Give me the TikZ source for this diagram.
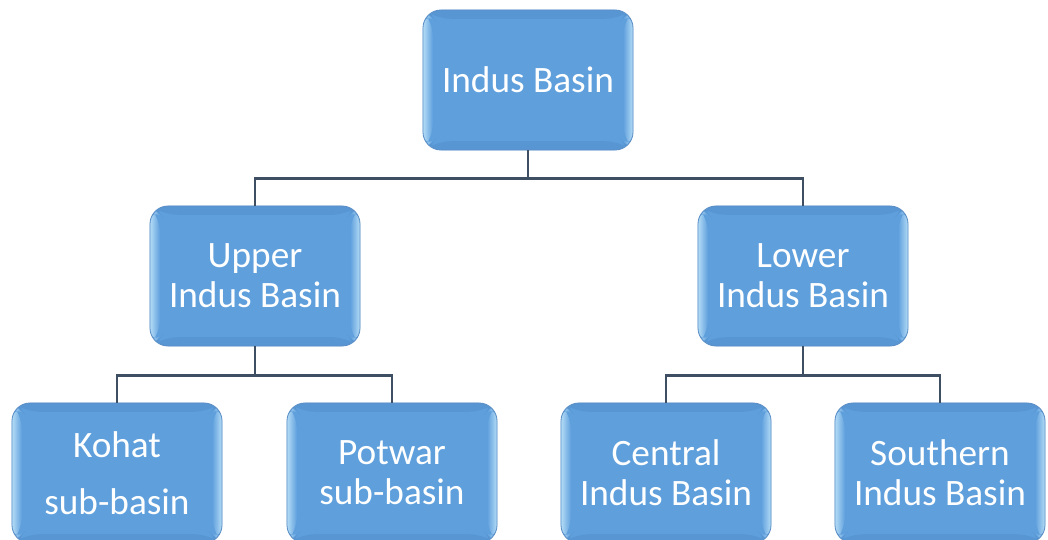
\documentclass[tikz,border=0pt]{standalone}
\usepackage{fontspec}
\setmainfont{Carlito}
\definecolor{basinblue}{HTML}{5E9FDC}
\definecolor{basinlight}{HTML}{B4DCF6}
\definecolor{basindark}{HTML}{5895D3}
\definecolor{basinedge}{HTML}{5C8FC6}
\definecolor{linkgray}{HTML}{3E4F63}
\tikzset{
  basin/.style={draw=basinedge, line width=0.6pt, fill=basinblue, rounded corners=0.45cm,
    minimum width=5.25cm, minimum height=3.5cm, text=white, align=center,
    font=\fontsize{26.5}{28.5}\selectfont,
    path picture={
      \fill[basindark] (path picture bounding box.south west) -- ++(0.25cm,0.22cm) -- ++(4.75cm,0cm) -- (path picture bounding box.south east) -- cycle;
      \fill[basindark] (path picture bounding box.north west) -- ++(0.25cm,-0.22cm) -- ++(4.75cm,0cm) -- (path picture bounding box.north east) -- cycle;
      \shade[left color=basinlight, right color=basinblue] (path picture bounding box.south west) -- ++(0.25cm,0.22cm) -- ++(0cm,3.06cm) -- (path picture bounding box.north west) -- cycle;
      \shade[left color=basinblue, right color=basinlight] (path picture bounding box.south east) -- ++(-0.25cm,0.22cm) -- ++(0cm,3.06cm) -- (path picture bounding box.north east) -- cycle;
    }},
  link/.style={draw=linkgray, line width=1.6pt}
}
\begin{document}
\begin{tikzpicture}[x=0.025cm, y=-0.025cm]
  \useasboundingbox (0,0) rectangle (1048,540);
  \clip (0,0) rectangle (1048,540);
  % levels
  \node[basin] (indus) at (528,80) {Indus Basin};
  \node[basin] (upper) at (255,276) {Upper\\Indus Basin};
  \node[basin] (lower) at (803,276) {Lower\\Indus Basin};
  \node[basin] (kohat) at (117,473) {Kohat\\[0.45em]sub-basin};
  \node[basin] (potwar) at (392,473) {Potwar\\sub-basin};
  \node[basin] (central) at (666,473) {Central\\Indus Basin};
  \node[basin] (southern) at (940,473) {Southern\\Indus Basin};
  % connectors
  \draw[link] (indus.south) -- ++(0,28) -| (upper.north);
  \draw[link] (indus.south) -- ++(0,28) -| (lower.north);
  \draw[link] (upper.south) -- ++(0,29) -| (kohat.north);
  \draw[link] (upper.south) -- ++(0,29) -| (potwar.north);
  \draw[link] (lower.south) -- ++(0,29) -| (central.north);
  \draw[link] (lower.south) -- ++(0,29) -| (southern.north);
\end{tikzpicture}
\end{document}
